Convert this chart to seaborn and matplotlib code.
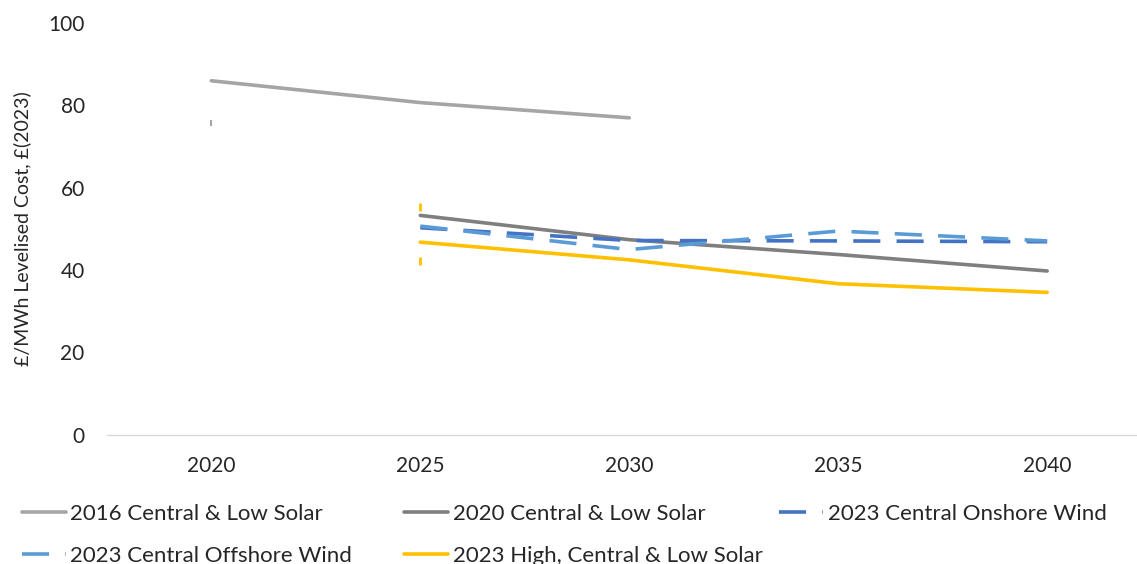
import matplotlib
matplotlib.use("Agg")
import matplotlib.pyplot as plt
import seaborn as sns
import pandas as pd

# Data (£/MWh, 2023 prices)
years = [2020, 2025, 2030, 2035, 2040]
s2016_years = [2020, 2025, 2030]
s2016 = [86.0, 80.7, 77.0]
s2020_years = [2025, 2030, 2035, 2040]
s2020 = [53.3, 47.4, 43.8, 39.8]
onshore_years = [2025, 2030, 2035, 2040]
onshore = [50.3, 47.2, 47.1, 46.9]
offshore_years = [2025, 2030, 2035, 2040]
offshore = [50.7, 45.0, 49.5, 47.1]
solar_years = [2025, 2030, 2035, 2040]
solar = [46.8, 42.5, 36.7, 34.6]
# small range markers (high / low)
s2016_low_year = [2020]
s2016_low = [75.8]
solar_range_years = [2025, 2025]
solar_range = [55.3, 42.3]

labels = ["2016 Central & Low Solar", "2020 Central & Low Solar",
          "2023 Central Onshore Wind", "2023 Central Offshore Wind",
          "2023 High, Central & Low Solar"]
colors = ["#A5A5A5", "#7F7F7F", "#4472C4", "#5B9BD5", "#FFC000"]

sns.set_style("white")
plt.rcParams["font.family"] = ["Lato", "DejaVu Sans"]
plt.rcParams["font.size"] = 15

fig = plt.figure(figsize=(11.37, 5.64), dpi=100)
ax = fig.add_axes([0.094, 0.229, 0.906, 0.73])

lw = 2.6
series = [
    (s2016_years, s2016, None),
    (s2020_years, s2020, None),
    (onshore_years, onshore, (7.5, 4.5)),
    (offshore_years, offshore, (7.5, 4.5)),
    (solar_years, solar, None),
]
handles = []
for (xs, ys, dash), lab, col in zip(series, labels, colors):
    df = pd.DataFrame({"year": xs, "cost": ys})
    sns.lineplot(data=df, x="year", y="cost", ax=ax, color=col, linewidth=lw, label=lab)
    line = ax.lines[-1]
    if dash:
        line.set_dashes(dash)
    handles.append(line)

ax.plot(s2016_low_year, s2016_low, marker="|", ls="none", color=colors[0], ms=5, mew=1.5)
ax.plot(solar_range_years, solar_range, marker="|", ls="none", color=colors[4], ms=6, mew=2)

ax.set_xlim(2017.5, 2042.15)
ax.set_ylim(0, 100)
ax.set_xticks(years)
ax.set_xticklabels([str(y) for y in years])
ax.set_yticks(range(0, 101, 20))
ax.tick_params(axis="x", length=0, pad=15, labelsize=15)
ax.tick_params(axis="y", length=0, pad=16, labelsize=15)
ax.set_xlabel("")
ax.set_ylabel("£/MWh Levelised Cost, £(2023)", fontsize=14, labelpad=12)
for side in ["top", "right", "left"]:
    ax.spines[side].set_visible(False)
ax.spines["bottom"].set_color("#D9D9D9")
ax.spines["bottom"].set_linewidth(1)
if ax.legend_:
    ax.legend_.remove()

# legend laid out in columns like the original
cols = [([handles[0], handles[3]], [labels[0], labels[3]], 0.019),
        ([handles[1], handles[4]], [labels[1], labels[4]], 0.355),
        ([handles[2]], [labels[2]], 0.685)]
for hs, ls, xpos in cols:
    fig.legend(hs, ls, loc="upper left", bbox_to_anchor=(xpos, 0.106),
               frameon=False, handlelength=2.0, handletextpad=0.2,
               labelspacing=0.98, borderpad=0, borderaxespad=0, fontsize=16)

fig.savefig("out.png", dpi=100)
